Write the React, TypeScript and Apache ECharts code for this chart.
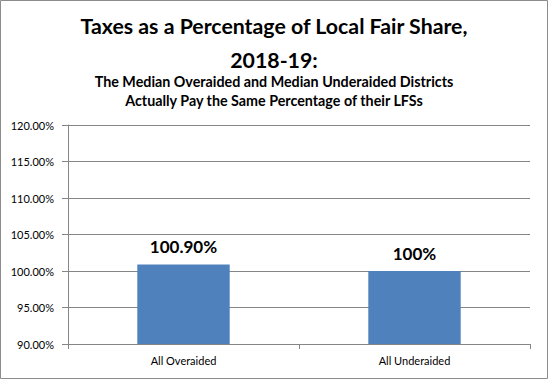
import React, { useEffect, useRef } from "react";
import * as echarts from "echarts";

const categories = ["All Overaided", "All Underaided"];
const values = [100.9, 100];
const valueLabels = ["100.90%", "100%"];
const titleLines = ["Taxes as a Percentage of Local Fair Share,", "2018-19:"];
const subtitleLines = [
  "The Median Overaided and Median Underaided Districts",
  "Actually Pay the Same Percentage of their LFSs",
];

export default function App() {
  const ref = useRef<HTMLDivElement>(null);
  useEffect(() => {
    document.body.style.margin = "0";
    const chart = echarts.init(ref.current!, null, { renderer: "svg" });
    const font = "Lato, 'Open Sans', sans-serif";
    const titleY = [26, 60];
    const subY = [81, 100];
    const texts: any[] = [];
    titleLines.forEach((t, i) =>
      texts.push({
        type: "text",
        x: 274,
        y: titleY[i],
        style: {
          text: t,
          fontFamily: font,
          fontSize: 21.3,
          fontWeight: "bold",
          fill: "#000",
          align: "center",
          verticalAlign: "middle",
        },
      })
    );
    subtitleLines.forEach((t, i) =>
      texts.push({
        type: "text",
        x: 274,
        y: subY[i],
        style: {
          text: t,
          fontFamily: font,
          fontSize: 14.3,
          fontWeight: "bold",
          fill: "#000",
          align: "center",
          verticalAlign: "middle",
        },
      })
    );
    chart.setOption({
      animation: false,
      backgroundColor: "#ffffff",
      graphic: [
        {
          type: "rect",
          shape: { x: 0.5, y: 0.5, width: 547, height: 378 },
          style: { fill: "none", stroke: "#8c8c8c", lineWidth: 1 },
          silent: true,
        },
        ...texts,
      ],
      grid: { left: 68, right: 18, top: 125, bottom: 36, containLabel: false },
      xAxis: {
        type: "category",
        data: categories,
        axisLine: { lineStyle: { color: "#868686" } },
        axisTick: { show: true, length: 5, lineStyle: { color: "#868686" } },
        axisLabel: { fontFamily: font, fontSize: 11, color: "#000", margin: 11 },
      },
      yAxis: {
        type: "value",
        min: 90,
        max: 120,
        interval: 5,
        axisLine: { show: true, lineStyle: { color: "#868686" } },
        axisTick: { show: true, inside: false, length: 6, lineStyle: { color: "#868686" } },
        splitLine: { lineStyle: { color: "#868686" } },
        axisLabel: {
          fontFamily: font,
          fontSize: 11,
          color: "#000",
          margin: 14,
          formatter: (v: number) => v.toFixed(2) + "%",
        },
      },
      series: [
        {
          type: "bar",
          data: values,
          barWidth: "40%",
          itemStyle: { color: "#4F81BD" },
          label: {
            show: true,
            position: "top",
            distance: 9,
            fontFamily: font,
            fontSize: 17,
            fontWeight: "bold",
            color: "#000",
            formatter: (p: any) => valueLabels[p.dataIndex],
          },
        },
      ],
    });
    return () => chart.dispose();
  }, []);
  return <div ref={ref} style={{ width: 548, height: 380 }} />;
}
